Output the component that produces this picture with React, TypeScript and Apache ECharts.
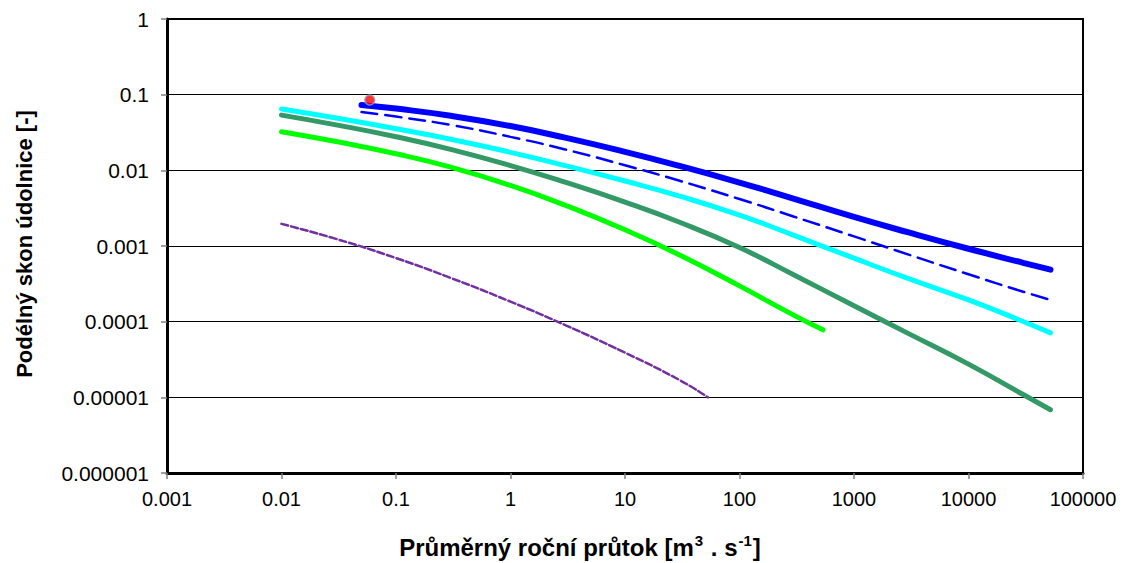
import React, { useEffect, useRef } from "react";
import * as echarts from "echarts";

const xTickLabels = ["0.001", "0.01", "0.1", "1", "10", "100", "1000", "10000", "100000"];
const yTickLabels = ["0.000001", "0.00001", "0.0001", "0.001", "0.01", "0.1", "1"];

const blueX = [0.05, 0.1, 0.3, 1, 3, 10, 30, 100, 300, 1000, 3000, 10000, 30000, 52000];
const blueY = [0.0731, 0.0655, 0.0526, 0.0385, 0.027, 0.01754, 0.01143, 0.00689, 0.0042, 0.00242, 0.00151, 0.00092, 0.0006, 0.000486];

const blueDashX = [0.05, 0.1, 0.3, 1, 3, 10, 30, 100, 300, 1000, 3000, 10000, 30000, 52000];
const blueDashY = [0.0589, 0.0513, 0.0398, 0.0277, 0.0189, 0.01167, 0.00728, 0.00418, 0.00244, 0.00134, 0.00077, 0.000423, 0.000249, 0.000194];

const cyanX = [0.01, 0.03, 0.1, 0.3, 1, 3, 10, 30, 100, 300, 1000, 3000, 10000, 30000, 52000];
const cyanY = [0.0646, 0.0491, 0.0355, 0.0258, 0.0173, 0.01156, 0.00723, 0.00456, 0.00256, 0.00138, 0.00069, 0.00037, 0.000194, 0.0001005, 0.0000711];

const seaX = [0.01, 0.03, 0.1, 0.3, 1, 3, 10, 30, 100, 300, 1000, 3000, 10000, 30000, 52000];
const seaY = [0.0537, 0.0399, 0.0278, 0.0189, 0.01156, 0.00697, 0.00381, 0.00206, 0.000953, 0.000414, 0.000162, 0.0000695, 0.0000275, 0.0000109, 0.00000686];

const greenX = [0.01, 0.03, 0.1, 0.3, 1, 3, 10, 30, 100, 300, 535];
const greenY = [0.0324, 0.024, 0.01656, 0.01102, 0.00632, 0.00346, 0.00164, 0.00076, 0.000297, 0.000121, 0.000078];

const purpleX = [0.01, 0.03, 0.1, 0.3, 1, 3, 10, 30, 53];
const purpleY = [0.00196, 0.00124, 0.000693, 0.000379, 0.000184, 0.0000902, 0.0000389, 0.0000169, 0.00001];

const pointX = [0.059];
const pointY = [0.085];

const zip = (xs: number[], ys: number[]) => xs.map((x, i) => [x, ys[i]]);

export default function App() {
  const ref = useRef<HTMLDivElement>(null);
  useEffect(() => {
    if (!ref.current) return;
    const chart = echarts.init(ref.current, null, { renderer: "svg" });
    const font = "'Liberation Sans', Arial, Helvetica, sans-serif";
    const idx = (v: number) => Math.round(Math.log10(v));
    const line = (data: number[][], color: string, width: number, type: any = "solid") => ({
      type: "line",
      data,
      smooth: true,
      symbol: "none",
      lineStyle: { color, width, type, cap: "round" },
      z: 3,
    });
    chart.setOption({
      animation: false,
      backgroundColor: "#fff",
      grid: {
        left: 167,
        right: 42,
        top: 19,
        bottom: 90,
        show: true,
        borderColor: "#000",
        borderWidth: 2,
      },
      xAxis: {
        type: "log",
        logBase: 10,
        min: 0.001,
        max: 100000,
        axisLine: { show: true, lineStyle: { color: "#000", width: 3 } },
        axisTick: { show: true, length: 6, lineStyle: { color: "#808080", width: 1.5 } },
        axisLabel: {
          fontFamily: font,
          fontSize: 20,
          color: "#000",
          margin: 16,
          formatter: (v: number) => xTickLabels[idx(v) + 3] ?? "",
        },
        splitLine: { show: false },
        minorTick: { show: false },
      },
      yAxis: {
        type: "log",
        logBase: 10,
        min: 0.000001,
        max: 1,
        axisLine: { show: true, lineStyle: { color: "#000", width: 3 } },
        axisTick: { show: true, length: 6, lineStyle: { color: "#808080", width: 1.5 } },
        axisLabel: {
          fontFamily: font,
          fontSize: 21,
          color: "#000",
          margin: 18,
          formatter: (v: number) => yTickLabels[idx(v) + 6] ?? "",
        },
        splitLine: { show: true, lineStyle: { color: "#000", width: 1 } },
        minorTick: { show: false },
      },
      graphic: [
        {
          type: "text",
          x: 24,
          y: 244,
          rotation: Math.PI / 2,
          style: {
            text: "Podélný skon údolnice [-]",
            font: `bold 22px ${font}`,
            fill: "#000",
            textAlign: "center",
            textVerticalAlign: "middle",
          },
        },
        {
          type: "text",
          x: 580,
          y: 547,
          style: {
            text: "Průměrný roční průtok [m{sup|3} . s{sup|-1}]",
            font: `bold 24px ${font}`,
            fill: "#000",
            textAlign: "center",
            textVerticalAlign: "middle",
            lineHeight: 28,
            rich: {
              sup: {
                fontSize: 15,
                fontWeight: "bold",
                fontFamily: font,
                fill: "#000",
                verticalAlign: "top",
                lineHeight: 28,
                padding: [0, 1, 10, 1],
              },
            },
          },
        },
      ],
      series: [
        line(zip(purpleX, purpleY), "#7030A0", 2.5, [7, 3]),
        line(zip(greenX, greenY), "#00FF00", 5),
        line(zip(seaX, seaY), "#339966", 5),
        line(zip(cyanX, cyanY), "#00FFFF", 5),
        line(zip(blueDashX, blueDashY), "#0000FF", 2.5, [16, 8]),
        line(zip(blueX, blueY), "#0000FF", 6),
        {
          type: "scatter",
          data: zip(pointX, pointY),
          symbol: "circle",
          symbolSize: 10,
          itemStyle: { color: "#FF0000", borderColor: "#8FA3C8", borderWidth: 1.5 },
          z: 5,
        },
      ],
    });
    return () => chart.dispose();
  }, []);
  return (
    <div
      ref={ref}
      style={{ position: "fixed", left: 0, top: 0, width: 1125, height: 563 }}
    />
  );
}
